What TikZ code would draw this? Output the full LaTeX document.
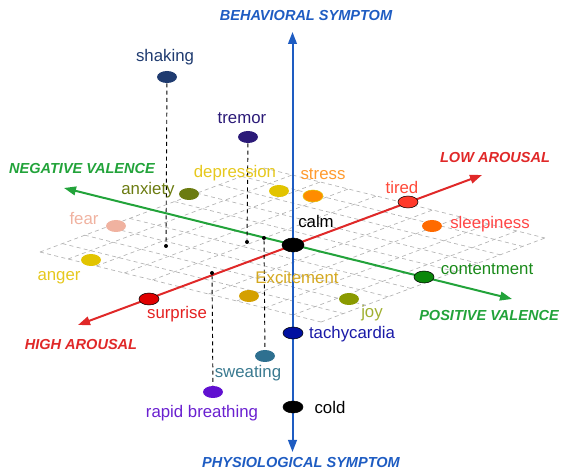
\documentclass[tikz,border=0pt]{standalone}
\usepackage{fontspec}
\setmainfont{Liberation Sans}
\usetikzlibrary{arrows.meta}
\usetikzlibrary{shapes.geometric}
\usetikzlibrary{calc}
\definecolor{axisblue}{HTML}{1E5CC2}
\definecolor{axisred}{HTML}{E02828}
\definecolor{axisgreen}{HTML}{22A33A}
\definecolor{cshaking}{HTML}{1F3B70}
\definecolor{ctremor}{HTML}{2B1A78}
\definecolor{cyellow}{HTML}{E2C400}
\definecolor{tyellow}{HTML}{E6C81E}
\definecolor{cstress}{HTML}{FF8C00}
\definecolor{tstress}{HTML}{FF9A2E}
\definecolor{canxiety}{HTML}{6B7B10}
\definecolor{cfear}{HTML}{F0B2A0}
\definecolor{ctired}{HTML}{FF3A2A}
\definecolor{ttired}{HTML}{FF4A3A}
\definecolor{csleepy}{HTML}{FF6A00}
\definecolor{tsleepy}{HTML}{FF4545}
\definecolor{ccontent}{HTML}{0A870A}
\definecolor{tcontent}{HTML}{1A8A1A}
\definecolor{csurprise}{HTML}{E00000}
\definecolor{tsurprise}{HTML}{E42020}
\definecolor{cexcite}{HTML}{D4A000}
\definecolor{texcite}{HTML}{D4A820}
\definecolor{cjoy}{HTML}{8A9A00}
\definecolor{tjoy}{HTML}{A0B030}
\definecolor{ctachy}{HTML}{0010A0}
\definecolor{ttachy}{HTML}{1A1AA8}
\definecolor{csweat}{HTML}{2E7090}
\definecolor{tsweat}{HTML}{3A7A90}
\definecolor{cbreath}{HTML}{6010D0}
\definecolor{tbreath}{HTML}{6A20D0}
\tikzset{
emodot/.style={shape=ellipse, minimum width=15pt, minimum height=9pt, inner sep=0pt},
footdot/.style={shape=circle, fill=black, minimum size=3pt, inner sep=0pt},
emolabel/.style={inner sep=0pt, font=\fontsize{12.6}{15}\selectfont},
axislabel/.style={inner sep=0pt, font=\fontsize{10.9}{13}\selectfont\bfseries\itshape},
axisline/.style={line width=1.5pt, {Triangle[length=9pt,width=6.5pt]}-{Triangle[length=9pt,width=6.5pt]}},
gridline/.style={gray!60, line width=0.5pt, dash pattern=on 3pt off 2.5pt},
dropline/.style={black, line width=0.7pt, dash pattern=on 3pt off 2.5pt}
}
\begin{document}
\begin{tikzpicture}[x=0.75pt,y=-0.75pt]
\useasboundingbox (0,0) rectangle (562,470);

\coordinate (gl) at (40,252);
\coordinate (gt) at (264,168);
\coordinate (gr) at (545,238);
\coordinate (gb) at (321,322);
\foreach \i in {0,...,10} {
  \draw[gridline] ($(gl)!\i/10!(gb)$) -- ($(gt)!\i/10!(gr)$);
  \draw[gridline] ($(gl)!\i/10!(gt)$) -- ($(gb)!\i/10!(gr)$);
}

\coordinate (behav) at (292.5,32);
\coordinate (physio) at (292.5,452);
\coordinate (high) at (78,325);
\coordinate (low) at (482,175);
\coordinate (neg) at (64,188);
\coordinate (pos) at (512,299);

\draw[axisline, axisred] (high) -- (low);
\draw[axisline, axisgreen] (neg) -- (pos);
\draw[axisline, axisblue] (physio) -- (behav);

\node[axislabel, text=axisblue] (lbehav) at (306,16) {BEHAVIORAL SYMPTOM};
\node[axislabel, text=axisblue] (lphysio) at (301,463) {PHYSIOLOGICAL SYMPTOM};
\node[axislabel, text=axisgreen] (lneg) at (82,169) {NEGATIVE VALENCE};
\node[axislabel, text=axisgreen] (lpos) at (489,316) {POSITIVE VALENCE};
\node[axislabel, text=axisred] (llow) at (495,158) {LOW AROUSAL};
\node[axislabel, text=axisred] (lhigh) at (81,345) {HIGH AROUSAL};

\node[emodot, fill=cshaking] (shaking) at (167,77) {};
\node[emodot, fill=ctremor] (tremor) at (248,137) {};
\node[emodot, fill=cyellow] (depression) at (279,191) {};
\node[emodot, fill=cstress, draw=cyellow, line width=0.4pt] (stress) at (313,196) {};
\node[emodot, fill=canxiety] (anxiety) at (189,194) {};
\node[emodot, fill=cfear] (fear) at (116,226) {};
\node[emodot, fill=cyellow] (anger) at (91,260) {};
\node[emodot, fill=black, draw=black, minimum width=16.5pt, minimum height=10.5pt] (calm) at (293,245) {};
\node[emodot, fill=ctired, draw=black] (tired) at (408,202) {};
\node[emodot, fill=csleepy] (sleepiness) at (432,226) {};
\node[emodot, fill=ccontent, draw=black] (contentment) at (424,277) {};
\node[emodot, fill=csurprise, draw=black] (surprise) at (149,299) {};
\node[emodot, fill=cexcite] (excitement) at (249,296) {};
\node[emodot, fill=cjoy] (joy) at (349,299) {};
\node[emodot, fill=ctachy, draw=black] (tachycardia) at (293,333) {};
\node[emodot, fill=csweat] (sweating) at (265,356) {};
\node[emodot, fill=cbreath] (breathing) at (213,392) {};
\node[emodot, fill=black, draw=black] (cold) at (293,407) {};

\node[footdot] (fshaking) at (166,246) {};
\node[footdot] (ftremor) at (247,242) {};
\node[footdot] (fsweating) at (264,238) {};
\node[footdot] (fbreathing) at (212,273) {};

\draw[dropline] (shaking) -- (fshaking);
\draw[dropline] (tremor) -- (ftremor);
\draw[dropline] (fsweating) -- (sweating);
\draw[dropline] (fbreathing) -- (breathing);

\node[emolabel, text=cshaking] (tshaking) at (165,57) {shaking};
\node[emolabel, text=ctremor] (ttremor) at (242,118) {tremor};
\node[emolabel, text=tyellow] (tdepression) at (235,173) {depression};
\node[emolabel, text=tstress] (tstress) at (323,174) {stress};
\node[emolabel, text=canxiety] (tanxiety) at (148,190) {anxiety};
\node[emolabel, text=cfear] (tfear) at (84,219) {fear};
\node[emolabel, text=tyellow] (tanger) at (59,278) {anger};
\node[emolabel, text=black] (tcalm) at (316,221) {calm};
\node[emolabel, text=ttired] (ttired) at (402,187) {tired};
\node[emolabel, text=tsleepy] (tsleepiness) at (490,224) {sleepiness};
\node[emolabel, text=tcontent] (tcontentment) at (487,269) {contentment};
\node[emolabel, text=tsurprise] (tsurprise) at (177,314) {surprise};
\node[emolabel, text=texcite] (texcitement) at (297,277) {Excitement};
\node[emolabel, text=tjoy] (tjoy) at (372,313) {joy};
\node[emolabel, text=ttachy] (ttachycardia) at (352,334) {tachycardia};
\node[emolabel, text=tsweat] (tsweating) at (248,373) {sweating};
\node[emolabel, text=tbreath] (tbreathing) at (202,413) {rapid breathing};
\node[emolabel, text=black] (tcold) at (330,407) {cold};

\end{tikzpicture}
\end{document}
